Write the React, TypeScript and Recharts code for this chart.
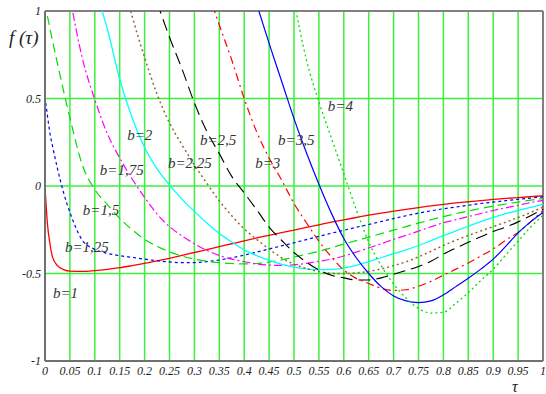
import React from 'react';
import {
  LineChart,
  Line,
  XAxis,
  YAxis,
  CartesianGrid,
  ReferenceLine,
  ReferenceDot,
} from 'recharts';

// tau grid (denser near 0 where b=1 and b=1,25 drop fast)
const TAU = [
  0, 0.005, 0.01, 0.015, 0.025, 0.0375, 0.05, 0.075, 0.1, 0.125, 0.15, 0.175,
  0.2, 0.225, 0.25, 0.275, 0.3, 0.325, 0.35, 0.375, 0.4, 0.425, 0.45, 0.475,
  0.5, 0.525, 0.55, 0.575, 0.6, 0.625, 0.65, 0.675, 0.7, 0.725, 0.75, 0.775,
  0.8, 0.825, 0.85, 0.875, 0.9, 0.925, 0.95, 0.975, 1,
];

// f(tau) per b; each list ends at tau = 1 (values > 1 get clipped)
const F_B1 = [
  0, -0.22, -0.33, -0.405, -0.455, -0.478, -0.487, -0.488, -0.483, -0.476,
  -0.467, -0.455, -0.442, -0.428, -0.413, -0.397, -0.38, -0.364, -0.347, -0.33,
  -0.313, -0.297, -0.282, -0.267, -0.252, -0.237, -0.222, -0.207, -0.193, -0.18,
  -0.167, -0.155, -0.144, -0.133, -0.123, -0.114, -0.105, -0.097, -0.09, -0.083,
  -0.077, -0.071, -0.066, -0.061, -0.056,
];
const F_B125 = [
  0.51, 0.4, 0.3, 0.23, 0.1, -0.04, -0.15, -0.31, -0.362, -0.385, -0.398,
  -0.408, -0.418, -0.427, -0.434, -0.438, -0.438, -0.432, -0.423, -0.41, -0.395,
  -0.378, -0.36, -0.342, -0.325, -0.306, -0.288, -0.27, -0.253, -0.236, -0.22,
  -0.203, -0.186, -0.17, -0.155, -0.142, -0.13, -0.12, -0.11, -0.1, -0.092,
  -0.084, -0.076, -0.069, -0.062,
];
const F_B15 = [
  1.05, 0.97, 0.9, 0.83, 0.7, 0.54, 0.39, 0.12, -0.02, -0.105, -0.185, -0.25,
  -0.305, -0.345, -0.376, -0.4, -0.418, -0.43, -0.438, -0.443, -0.445, -0.443,
  -0.435, -0.422, -0.406, -0.39, -0.373, -0.353, -0.332, -0.312, -0.292, -0.272,
  -0.252, -0.232, -0.212, -0.193, -0.175, -0.158, -0.143, -0.128, -0.115,
  -0.103, -0.092, -0.081, -0.072,
];
const F_B175 = [
  1.08, 0.73, 0.494, 0.3, 0.16, 0.04, -0.065, -0.16, -0.232, -0.285, -0.33,
  -0.368, -0.397, -0.418, -0.433, -0.445, -0.452, -0.454, -0.45, -0.442, -0.43,
  -0.418, -0.4, -0.378, -0.354, -0.33, -0.305, -0.282, -0.258, -0.233, -0.21,
  -0.193, -0.175, -0.157, -0.14, -0.125, -0.11, -0.095, -0.082,
];
const F_B2 = [
  1.13, 0.9, 0.61, 0.39, 0.22, 0.098, 0.005, -0.075, -0.145, -0.212, -0.272,
  -0.32, -0.365, -0.398, -0.425, -0.448, -0.463, -0.473, -0.478, -0.477, -0.468,
  -0.453, -0.432, -0.41, -0.387, -0.365, -0.34, -0.312, -0.284, -0.257, -0.23,
  -0.203, -0.18, -0.158, -0.14, -0.122, -0.105,
];
const F_B225 = [
  1.25, 0.97, 0.735, 0.525, 0.36, 0.235, 0.12, 0.015, -0.085, -0.17, -0.245,
  -0.305, -0.36, -0.41, -0.447, -0.472, -0.489, -0.499, -0.5, -0.496, -0.488,
  -0.474, -0.455, -0.433, -0.405, -0.373, -0.34, -0.31, -0.283, -0.257, -0.232,
  -0.207, -0.18, -0.152, -0.12,
];
const F_B25 = [
  1.05, 0.85, 0.67, 0.475, 0.312, 0.185, 0.055, -0.04, -0.135, -0.235, -0.31,
  -0.38, -0.435, -0.48, -0.51, -0.525, -0.537, -0.537, -0.525, -0.505, -0.483,
  -0.46, -0.43, -0.39, -0.355, -0.322, -0.29, -0.26, -0.235, -0.205, -0.17,
  -0.132,
];
const F_B3 = [
  1.13, 0.92, 0.72, 0.5, 0.31, 0.16, 0.035, -0.1, -0.21, -0.315, -0.405, -0.48,
  -0.528, -0.557, -0.585, -0.597, -0.593, -0.573, -0.545, -0.51, -0.475, -0.44,
  -0.4, -0.36, -0.31, -0.265, -0.205, -0.14,
];
const F_B35 = [
  1.04, 0.815, 0.6, 0.385, 0.19, 0.01, -0.155, -0.3, -0.41, -0.5, -0.575,
  -0.628, -0.656, -0.666, -0.656, -0.622, -0.575, -0.527, -0.475, -0.418,
  -0.345, -0.268, -0.205, -0.152,
];
const F_B4 = [
  1.06, 0.72, 0.48, 0.275, 0.07, -0.135, -0.32, -0.455, -0.56, -0.64, -0.7,
  -0.726, -0.722, -0.67, -0.61, -0.54, -0.475, -0.395, -0.315, -0.235, -0.168,
];

const X_TICKS = [
  0, 0.05, 0.1, 0.15, 0.2, 0.25, 0.3, 0.35, 0.4, 0.45, 0.5, 0.55, 0.6, 0.65,
  0.7, 0.75, 0.8, 0.85, 0.9, 0.95, 1,
];
const Y_TICKS = [-1, -0.5, 0, 0.5, 1];

// curve labels: text, tau, f at the left edge / middle of the text
const LABEL_TEXT = ['b=1', 'b=1,25', 'b=1,5', 'b=1,75', 'b=2', 'b=2,25', 'b=2,5', 'b=3', 'b=3,5', 'b=4'];
const LABEL_TAU = [0.016, 0.04, 0.076, 0.11, 0.165, 0.247, 0.311, 0.422, 0.468, 0.568];
const LABEL_F = [-0.611, -0.349, -0.137, 0.091, 0.291, 0.131, 0.263, 0.131, 0.263, 0.457];

const SERIES = [
  { key: 'b1', values: F_B1, color: '#ff0000', dash: undefined, width: 1.3 },
  { key: 'b125', values: F_B125, color: '#0000ff', dash: '3 3', width: 1.2 },
  { key: 'b15', values: F_B15, color: '#00dd00', dash: '9 5', width: 1.2 },
  { key: 'b175', values: F_B175, color: '#ff00ff', dash: '8 3 2 3', width: 1.2 },
  { key: 'b2', values: F_B2, color: '#00ffff', dash: undefined, width: 1.3 },
  { key: 'b225', values: F_B225, color: '#996633', dash: '2 3', width: 1.5 },
  { key: 'b25', values: F_B25, color: '#000000', dash: '12 6', width: 1.1 },
  { key: 'b3', values: F_B3, color: '#ff0000', dash: '8 4 2 4', width: 1.2 },
  { key: 'b35', values: F_B35, color: '#0000ff', dash: undefined, width: 1.2 },
  { key: 'b4', values: F_B4, color: '#00dd00', dash: '2 3', width: 1.3 },
];

const data = TAU.map((t, i) => {
  const row: Record<string, number | null> = { tau: t };
  SERIES.forEach((s) => {
    const offset = TAU.length - s.values.length;
    row[s.key] = i >= offset ? s.values[i - offset] : null;
  });
  return row;
});

const SERIF = '"Liberation Serif", "Times New Roman", serif';
const tickStyle = { fontFamily: SERIF, fontStyle: 'italic', fontSize: 12, fill: '#222' };

function LabelText(props: any) {
  return (
    <text
      x={props.cx}
      y={props.cy}
      dominantBaseline="central"
      fontFamily={SERIF}
      fontStyle="italic"
      fontSize={15}
      fill="#333"
    >
      {props.text}
    </text>
  );
}

export default function App() {
  return (
    <div style={{ position: 'absolute', left: 0, top: 0, width: 546, height: 394 }}>
      <LineChart
        width={546}
        height={394}
        data={data}
        margin={{ top: 11, right: 3, left: 0, bottom: 0 }}
      >
        <CartesianGrid stroke="#3cf03c" strokeWidth={1.5} />
        <XAxis
          dataKey="tau"
          type="number"
          domain={[0, 1]}
          ticks={X_TICKS}
          tickFormatter={(v: number) => String(v)}
          interval={0}
          height={33}
          tickLine={false}
          tickSize={4}
          tickMargin={1}
          axisLine={{ stroke: '#707070', strokeWidth: 2 }}
          tick={tickStyle}
        />
        <YAxis
          type="number"
          domain={[-1, 1]}
          ticks={Y_TICKS}
          allowDataOverflow
          interval={0}
          width={45}
          tickLine={false}
          tickSize={2}
          tickMargin={2}
          axisLine={{ stroke: '#707070', strokeWidth: 2 }}
          tick={tickStyle}
        />
        <ReferenceLine y={1} stroke="#808080" strokeWidth={2} />
        <ReferenceLine x={1} stroke="#808080" strokeWidth={2} />
        {SERIES.map((s) => (
          <Line
            key={s.key}
            dataKey={s.key}
            type="monotone"
            stroke={s.color}
            strokeWidth={s.width}
            strokeDasharray={s.dash}
            dot={false}
            activeDot={false}
            isAnimationActive={false}
          />
        ))}
        {LABEL_TEXT.map((txt, i) => (
          <ReferenceDot
            key={txt}
            x={LABEL_TAU[i]}
            y={LABEL_F[i]}
            r={0}
            shape={(p: any) => <LabelText {...p} text={txt} />}
          />
        ))}
      </LineChart>
      <div
        style={{
          position: 'absolute',
          left: 9,
          top: 28,
          fontFamily: SERIF,
          fontStyle: 'italic',
          fontSize: 19,
          lineHeight: '20px',
          color: '#222',
        }}
      >
        f (τ)
      </div>
      <div
        style={{
          position: 'absolute',
          left: 512,
          top: 379,
          fontFamily: SERIF,
          fontStyle: 'italic',
          fontSize: 16,
          lineHeight: '16px',
          color: '#222',
        }}
      >
        τ
      </div>
    </div>
  );
}
